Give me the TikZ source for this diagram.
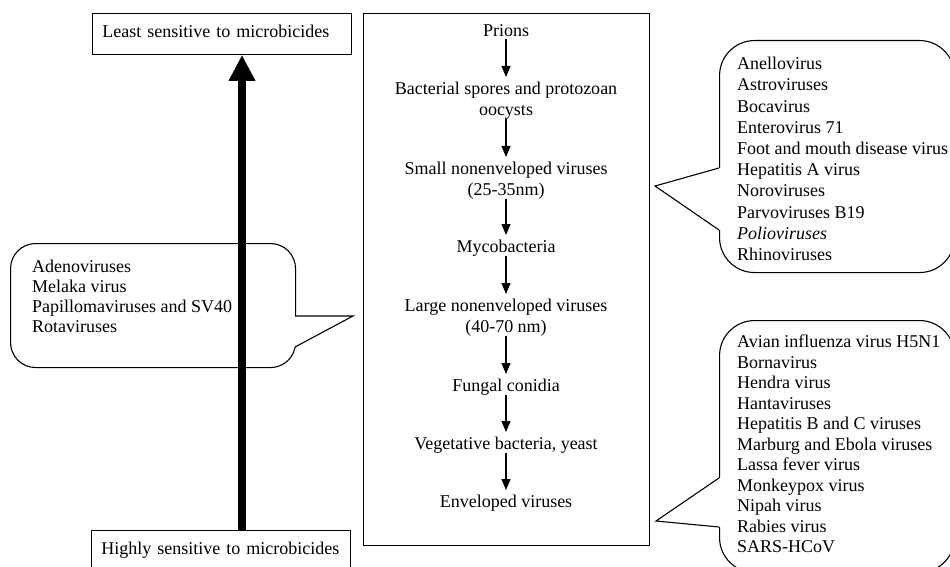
\documentclass[tikz,border=0pt]{standalone}
\usepackage{fontspec}
\setmainfont{Liberation Serif}
\usetikzlibrary{arrows.meta}
\begin{document}
\begin{tikzpicture}[x=1pt,y=-1pt,
  txt/.style={font=\fontsize{18}{21}\selectfont, inner sep=0pt},
  sbox/.style={draw, line width=0.9pt, minimum width=259pt, minimum height=41pt,
    anchor=north west, inner ysep=0pt, inner xsep=10pt, text width=239pt, align=left,
    text height=12pt, text depth=4pt, font=\fontsize{18}{21}\selectfont},
  flow/.style={txt, align=center, anchor=north, text depth=0pt},
  flowarr/.style={line width=1.1pt, -{Triangle[width=9pt,length=11pt]}, shorten <=3pt, shorten >=5pt},
  bigarrow/.style={line width=8pt, -{Triangle[width=25pt,length=26pt]}},
  callout/.style={draw, line width=1.1pt, anchor=north west, inner sep=0pt},
  callline/.style={line width=1.1pt, line join=miter},
  wipe/.style={white, line width=3pt},
  list/.style={txt, align=left, anchor=north west},
]
\useasboundingbox (0,0) rectangle (950,567);
\clip (0,0) rectangle (950,567);
\fill[white] (0,0) rectangle (950,567);

% left scale boxes
\node[sbox] (least) at (92,13) {Least sensitive to microbicides};
\node[sbox] (highly) at (91,530) {Highly sensitive to microbicides};

% central panel
\node[draw, line width=0.9pt, minimum width=286pt, minimum height=532pt, anchor=north west, inner sep=0pt] (panel) at (363,13) {};

\node[flow] (n1) at (506,24) {Prions};
\node[flow] (n2) at (506,82) {Bacterial spores and protozoan\\oocysts};
\node[flow] (n3) at (506,162) {Small nonenveloped viruses\\(25-35nm)};
\node[flow] (n4) at (506,240) {Mycobacteria};
\node[flow] (n5) at (506,299) {Large nonenveloped viruses\\(40-70 nm)};
\node[flow] (n6) at (506,379) {Fungal conidia};
\node[flow] (n7) at (506,437) {Vegetative bacteria, yeast};
\node[flow] (n8) at (506,495) {Enveloped viruses};

\draw[flowarr] (n1.south) -- (n2.north);
\draw[flowarr] (n2.south) -- (n3.north);
\draw[flowarr] (n3.south) -- (n4.north);
\draw[flowarr] (n4.south) -- (n5.north);
\draw[flowarr] (n5.south) -- (n6.north);
\draw[flowarr] (n6.south) -- (n7.north);
\draw[flowarr] (n7.south) -- (n8.north);

% left callout
\node[callout, rounded corners=25pt, minimum width=285pt, minimum height=124pt] (lcall) at (10,243) {};
\node[list, font=\fontsize{18}{20}\selectfont] (llist) at (32,260) {Adenoviruses\\Melaka virus\\Papillomaviruses and SV40\\Rotaviruses};
\coordinate (lp1) at (295,316);
\coordinate (lptip) at (353,316);
\coordinate (lp2) at (295,347);
\draw[wipe] (lp1) -- (lp2);
\draw[callline] (lp1) -- (lptip) -- (lp2);

% right callout 1
\node[callout, rounded corners=35pt, minimum width=235pt, minimum height=232pt] (rcall1) at (719,40) {};
\node[list, font=\fontsize{18}{21.2}\selectfont] (rlist1) at (737,57) {Anellovirus\\Astroviruses\\Bocavirus\\Enterovirus 71\\Foot and mouth disease virus\\Hepatitis A virus\\Noroviruses\\Parvoviruses B19\\\textit{Polioviruses}\\Rhinoviruses};
\coordinate (ap1) at (719,168);
\coordinate (aptip) at (655,186);
\coordinate (ap2) at (719,230);
\draw[wipe] (ap1) -- (ap2);
\draw[callline] (ap1) -- (aptip) -- (ap2);

% right callout 2
\node[callout, rounded corners=35pt, minimum width=235pt, minimum height=252pt] (rcall2) at (719,320) {};
\node[list, font=\fontsize{18}{20.5}\selectfont] (rlist2) at (737,335) {Avian influenza virus H5N1\\Bornavirus\\Hendra virus\\Hantaviruses\\Hepatitis B and C viruses\\Marburg and Ebola viruses\\Lassa fever virus\\Monkeypox virus\\Nipah virus\\Rabies virus\\SARS-HCoV};
\coordinate (bp1) at (719,478);
\coordinate (bptip) at (656,521);
\coordinate (bp2) at (719,527);
\draw[wipe] (bp1) -- (bp2);
\draw[callline] (bp1) -- (bptip) -- (bp2);

% big arrow
\coordinate (ax) at (242,0);
\draw[bigarrow] (highly.north -| ax) -- (least.south -| ax);
\end{tikzpicture}
\end{document}
